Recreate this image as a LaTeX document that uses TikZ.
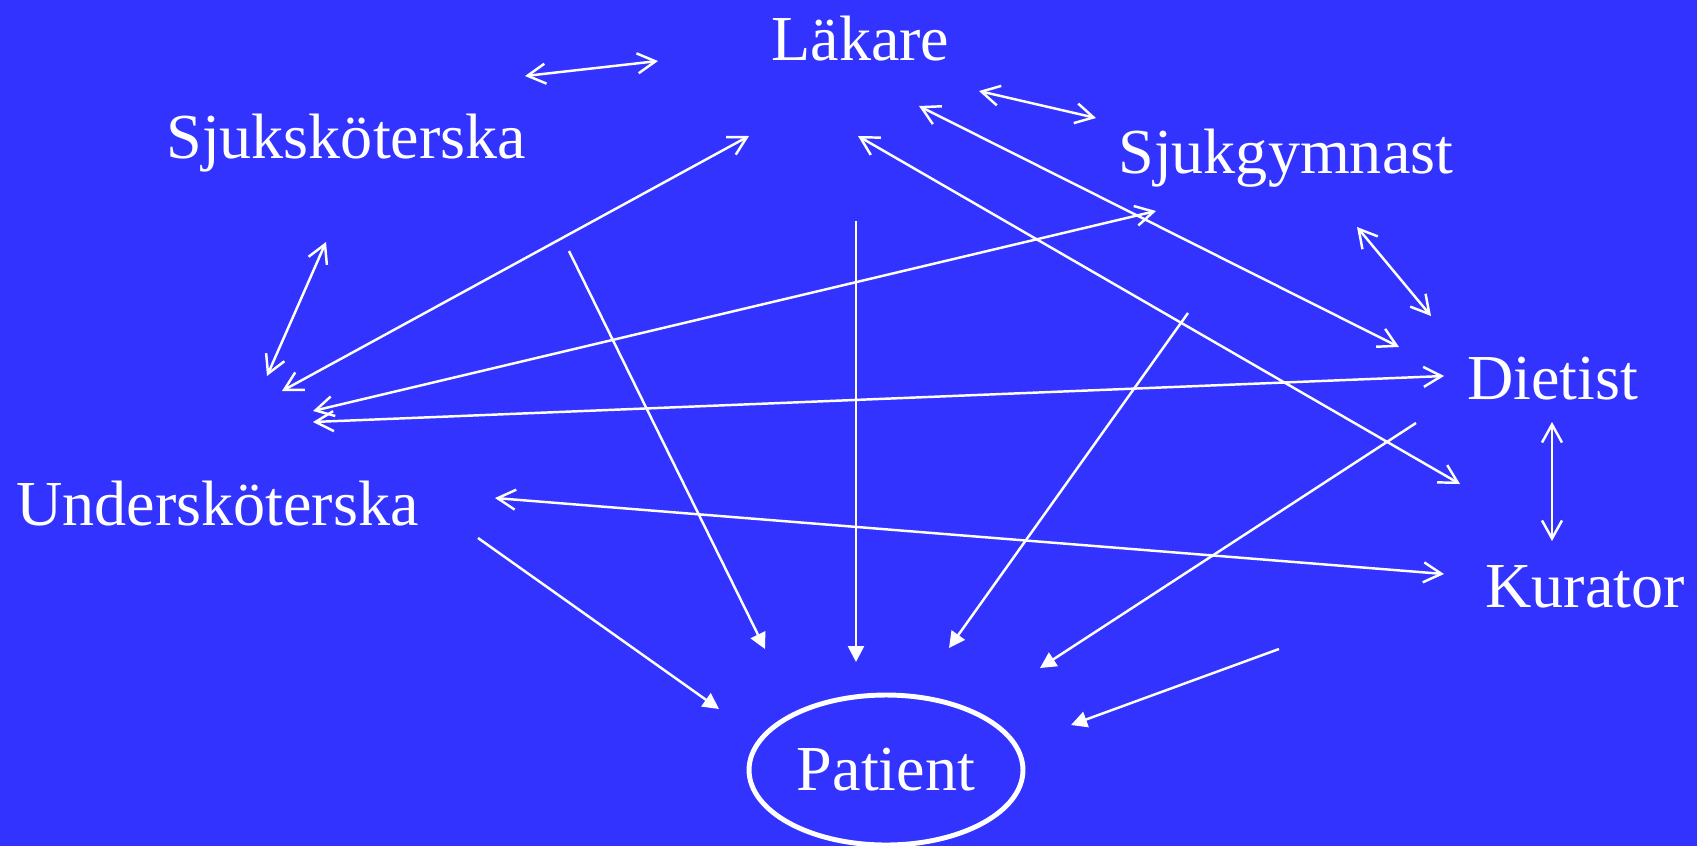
\documentclass[tikz,border=0pt]{standalone}
\usepackage{fontspec}
\setmainfont{Liberation Serif}
\usetikzlibrary{arrows.meta,shapes.geometric}
\definecolor{slideblue}{RGB}{51,51,255}
\tikzset{
  role/.style={text=white,anchor=base west,inner sep=0pt,font=\fontsize{36.5}{40}\selectfont},
  link/.style={white,line width=1.4pt,{Straight Barb[length=3.6mm,width=4mm]}-{Straight Barb[length=3.6mm,width=4mm]}},
  care/.style={white,line width=1.4pt,-{Triangle[length=3.2mm,width=3.2mm]}}
}
\begin{document}
\begin{tikzpicture}[x=0.02cm,y=-0.02cm]
    \fill [slideblue] (0,0) rectangle (1697,846);
    \useasboundingbox (0,0) rectangle (1697,846);
    % yrken
    \node [role] (lak) at (771,60) {Läkare};
    \node [role] (ssk) at (166,158) {Sjuksköterska};
    \node [role] (gym) at (1118,173) {Sjukgymnast};
    \node [role] (diet) at (1467,399) {Dietist};
    \node [role] (usk) at (16,525) {Undersköterska};
    \node [role] (kur) at (1485,607) {Kurator};
    \node [draw=white,line width=2.8pt,ellipse,minimum width=5.48cm,minimum height=3cm,text=white,font=\fontsize{36.5}{40}\selectfont] (pat) at (886,770) {Patient};
    % pilarnas ändar
    \coordinate (a1) at (525,76);   \coordinate (b1) at (658,61);
    \coordinate (a2) at (979,91);   \coordinate (b2) at (1096,118);
    \coordinate (a3) at (326,242);  \coordinate (b3) at (267,376);
    \coordinate (a4) at (1357,227); \coordinate (b4) at (1431,316);
    \coordinate (a5) at (1552,422); \coordinate (b5) at (1552,541);
    \coordinate (a6) at (282,391);  \coordinate (b6) at (749,136);
    \coordinate (a7) at (919,106);  \coordinate (b7) at (1399,347);
    \coordinate (a8) at (858,136);  \coordinate (b8) at (1460,484);
    \coordinate (a9) at (1156,211); \coordinate (b9) at (313,411);
    \coordinate (a10) at (313,422); \coordinate (b10) at (1444,376);
    \coordinate (a11) at (495,498); \coordinate (b11) at (1444,574);
    \coordinate (p1) at (478,538);  \coordinate (q1) at (719,709);
    \coordinate (p2) at (569,251);  \coordinate (q2) at (765,649);
    \coordinate (p3) at (856,221);  \coordinate (q3) at (856,662);
    \coordinate (p4) at (1188,313); \coordinate (q4) at (949,648);
    \coordinate (p5) at (1416,423); \coordinate (q5) at (1040,668);
    \coordinate (p6) at (1279,649); \coordinate (q6) at (1071,725);
    % samarbete
    \foreach \i in {1,...,11}
        \draw [link] (a\i) -- (b\i);
    % till patienten
    \foreach \i in {1,...,6}
        \draw [care] (p\i) -- (q\i);
\end{tikzpicture}
\end{document}
